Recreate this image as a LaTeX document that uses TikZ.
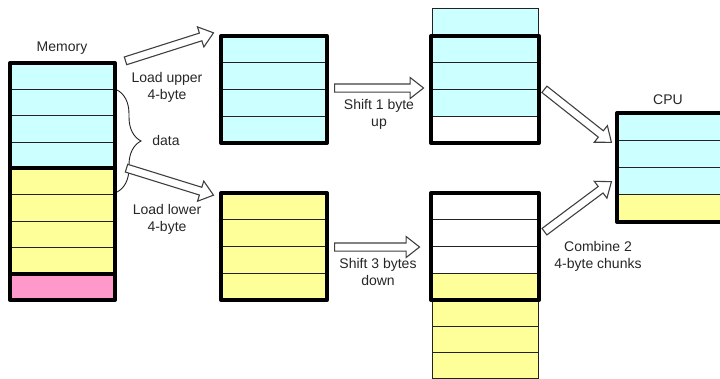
\documentclass[tikz,border=0pt]{standalone}
\usepackage{fontspec}
\setmainfont{Liberation Sans}
\usetikzlibrary{shapes.arrows,calc,decorations.pathreplacing}
\definecolor{cy}{HTML}{CCFFFF}
\definecolor{ye}{HTML}{FFFF99}
\definecolor{pk}{HTML}{FF99CC}
\definecolor{ln}{HTML}{222222}
\definecolor{ar}{HTML}{404040}
\newcommand\blockarrow[2]{\path let \p1=($(#2)-(#1)$), \n1={atan2(\y1,\x1)}, \n2={veclen(\x1,\y1)} in (#1) node[barrow, minimum height=\n2, rotate=\n1, anchor=tail] {};}
\begin{document}
\begin{tikzpicture}[x=1pt,y=-1pt,
  cell/.style={draw=ln, line width=0.9pt, inner sep=0pt, outer sep=0pt, anchor=north west, minimum width=#1},
  cell/.default=106pt,
  thickbox/.style={draw=black, line width=4pt, line join=round},
  lbl/.style={font=\fontsize{14}{17}\selectfont, text=black!85, align=center, inner sep=0pt},
  barrow/.style={single arrow, draw=ar, fill=white, line width=1.1pt, inner xsep=0pt, inner ysep=3.5pt, minimum width=0pt, single arrow head extend=6.5pt, single arrow tip angle=76, single arrow head indent=0pt, shape border uses incircle=false}]
\useasboundingbox (0,0) rectangle (720,378);
% Memory
\foreach \i/\c in {1/cy,2/cy,3/cy,4/cy,5/ye,6/ye,7/ye,8/ye,9/pk}
  \node[cell=105pt, fill=\c, minimum height=26.33pt] (m\i) at (10,{63+(\i-1)*26.33}) {};
\draw[thickbox] (m1.north west) rectangle (m4.south east);
\draw[thickbox] (m5.north west) rectangle (m8.south east);
\draw[thickbox] (m9.north west) rectangle (m9.south east);
\node[lbl] (memlbl) at (62,48) {Memory};
% Upper loaded
\foreach \i in {1,...,4}
  \node[cell, fill=cy, minimum height=26.75pt] (u\i) at (221,{36+(\i-1)*26.75}) {};
\draw[thickbox] (u1.north west) rectangle (u4.south east);
% Lower loaded
\foreach \i in {1,...,4}
  \node[cell, fill=ye, minimum height=26.75pt] (l\i) at (221,{193+(\i-1)*26.75}) {};
\draw[thickbox] (l1.north west) rectangle (l4.south east);
% Shifted upper
\node[cell, fill=cy, minimum height=28pt] (su0) at (432,8) {};
\foreach \i/\c in {1/cy,2/cy,3/cy,4/white}
  \node[cell=108pt, fill=\c, minimum height=26.75pt] (su\i) at (431,{36+(\i-1)*26.75}) {};
\draw[thickbox] (su1.north west) rectangle (su4.south east);
% Shifted lower
\foreach \i/\c in {1/white,2/white,3/white,4/ye}
  \node[cell=108pt, fill=\c, minimum height=26.75pt] (sl\i) at (431,{193+(\i-1)*26.75}) {};
\foreach \i in {5,6,7}
  \node[cell, fill=ye, minimum height=26.2pt] (sl\i) at (432,{300+(\i-5)*26.2}) {};
\draw[thickbox] (sl1.north west) rectangle (sl4.south east);
% CPU
\foreach \i/\c in {1/cy,2/cy,3/cy,4/ye}
  \node[cell=107pt, fill=\c, minimum height=27.25pt] (c\i) at (617,{113+(\i-1)*27.25}) {};
\draw[thickbox] (c1.north west) rectangle (c4.south east);
\node[lbl] (cpulbl) at (668,100) {CPU};
% brace
\draw[decorate, decoration={brace, amplitude=24pt}, draw=ln, line width=0.9pt] (117,90) -- (117,192);
\node[lbl] (datalbl) at (166,140) {data};
% arrow end points
\coordinate (a1s) at (125,61); \coordinate (a1e) at (213,33);
\coordinate (a2s) at (126,168); \coordinate (a2e) at (213,195);
\coordinate (a3s) at (334,88); \coordinate (a3e) at (423,88);
\coordinate (a4s) at (334,247); \coordinate (a4e) at (419,247);
\coordinate (a5s) at (544,89); \coordinate (a5e) at (611,142);
\coordinate (a6s) at (544,232); \coordinate (a6e) at (611,182);
\blockarrow{a1s}{a1e}
\blockarrow{a2s}{a2e}
\blockarrow{a3s}{a3e}
\blockarrow{a4s}{a4e}
\blockarrow{a5s}{a5e}
\blockarrow{a6s}{a6e}
% labels
\node[lbl] (lu) at (167,87.5) {Load upper\\4-byte};
\node[lbl] (ll) at (167,219.5) {Load lower\\4-byte};
\node[lbl] (s1) at (379,114) {Shift 1 byte\\up};
\node[lbl] (s3) at (378,271.5) {Shift 3 bytes\\down};
\node[lbl] (cb) at (598,256) {Combine 2\\4-byte chunks};
\end{tikzpicture}
\end{document}
